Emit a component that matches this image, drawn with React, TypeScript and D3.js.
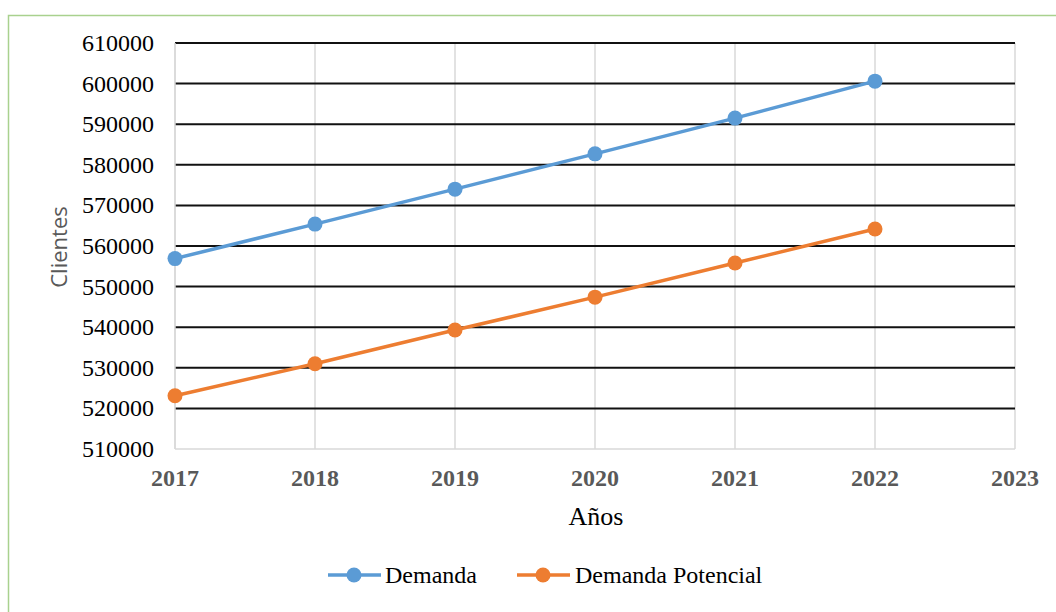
import React from "react";
import * as d3 from "d3";

const years = [2017, 2018, 2019, 2020, 2021, 2022];
const xTicks = [2017, 2018, 2019, 2020, 2021, 2022, 2023];
const yTicks = [510000, 520000, 530000, 540000, 550000, 560000, 570000, 580000, 590000, 600000, 610000];
const demanda = [556900, 565400, 574000, 582700, 591500, 600600];
const demandaPotencial = [523100, 531000, 539300, 547400, 555800, 564200];

const W = 1056, H = 612;
const L = 175, R = 1015, T = 43, B = 449;

export default function App() {
  const x = d3.scaleLinear().domain([2017, 2023]).range([L, R]);
  const y = d3.scaleLinear().domain([510000, 610000]).range([B, T]);
  const line = d3.line<number>().x((_, i) => x(years[i])).y((d) => y(d));
  const series = [
    { name: "Demanda", data: demanda, color: "#5B9BD5" },
    { name: "Demanda Potencial", data: demandaPotencial, color: "#ED7D31" },
  ];
  const serif = "'Liberation Serif', 'Times New Roman', serif";
  return (
    <svg width={W} height={H} style={{ position: "absolute", left: 0, top: 0 }}>
      <rect x={8.5} y={15.5} width={W} height={H} fill="white" stroke="#A9D18E" strokeWidth={1.5} />
      {xTicks.map((t) => (
        <line key={"v" + t} x1={x(t)} x2={x(t)} y1={T} y2={B} stroke="#D9D9D9" strokeWidth={1.5} />
      ))}
      {yTicks.map((t) =>
        t === 510000 ? null : (
          <line key={"h" + t} x1={L} x2={R} y1={y(t)} y2={y(t)} stroke="#111" strokeWidth={2} />
        )
      )}
      <line x1={L} x2={R} y1={B} y2={B} stroke="#D9D9D9" strokeWidth={1.5} />
      <line x1={L} x2={L} y1={T} y2={B} stroke="#D9D9D9" strokeWidth={1.5} />
      {yTicks.map((t) => (
        <text key={"yl" + t} x={154} y={y(t)} dy="0.33em" textAnchor="end" fontFamily={serif} fontSize={24} fill="#000">
          {t}
        </text>
      ))}
      {xTicks.map((t) => (
        <text key={"xl" + t} x={x(t)} y={486} textAnchor="middle" fontFamily={serif} fontSize={24} fontWeight="bold" fill="#595959">
          {t}
        </text>
      ))}
      <text x={596} y={525} textAnchor="middle" fontFamily={serif} fontSize={26} fill="#000">Años</text>
      <text transform={`translate(67,247) rotate(-90)`} textAnchor="middle" fontFamily="'Open Sans', 'DejaVu Sans', sans-serif" fontSize={22} fill="#595959">
        Clientes
      </text>
      {series.map((s) => (
        <g key={s.name}>
          <path d={line(s.data) || ""} fill="none" stroke={s.color} strokeWidth={3.5} />
          {s.data.map((d, i) => (
            <circle key={i} cx={x(years[i])} cy={y(d)} r={7.5} fill={s.color} />
          ))}
        </g>
      ))}
      <g>
        <line x1={328} x2={381} y1={575} y2={575} stroke="#5B9BD5" strokeWidth={3.5} />
        <circle cx={354} cy={575} r={7.5} fill="#5B9BD5" />
        <text x={385} y={583} fontFamily={serif} fontSize={24} fill="#000">Demanda</text>
        <line x1={517} x2={570} y1={575} y2={575} stroke="#ED7D31" strokeWidth={3.5} />
        <circle cx={543} cy={575} r={7.5} fill="#ED7D31" />
        <text x={575} y={583} fontFamily={serif} fontSize={24} fill="#000">Demanda Potencial</text>
      </g>
    </svg>
  );
}
